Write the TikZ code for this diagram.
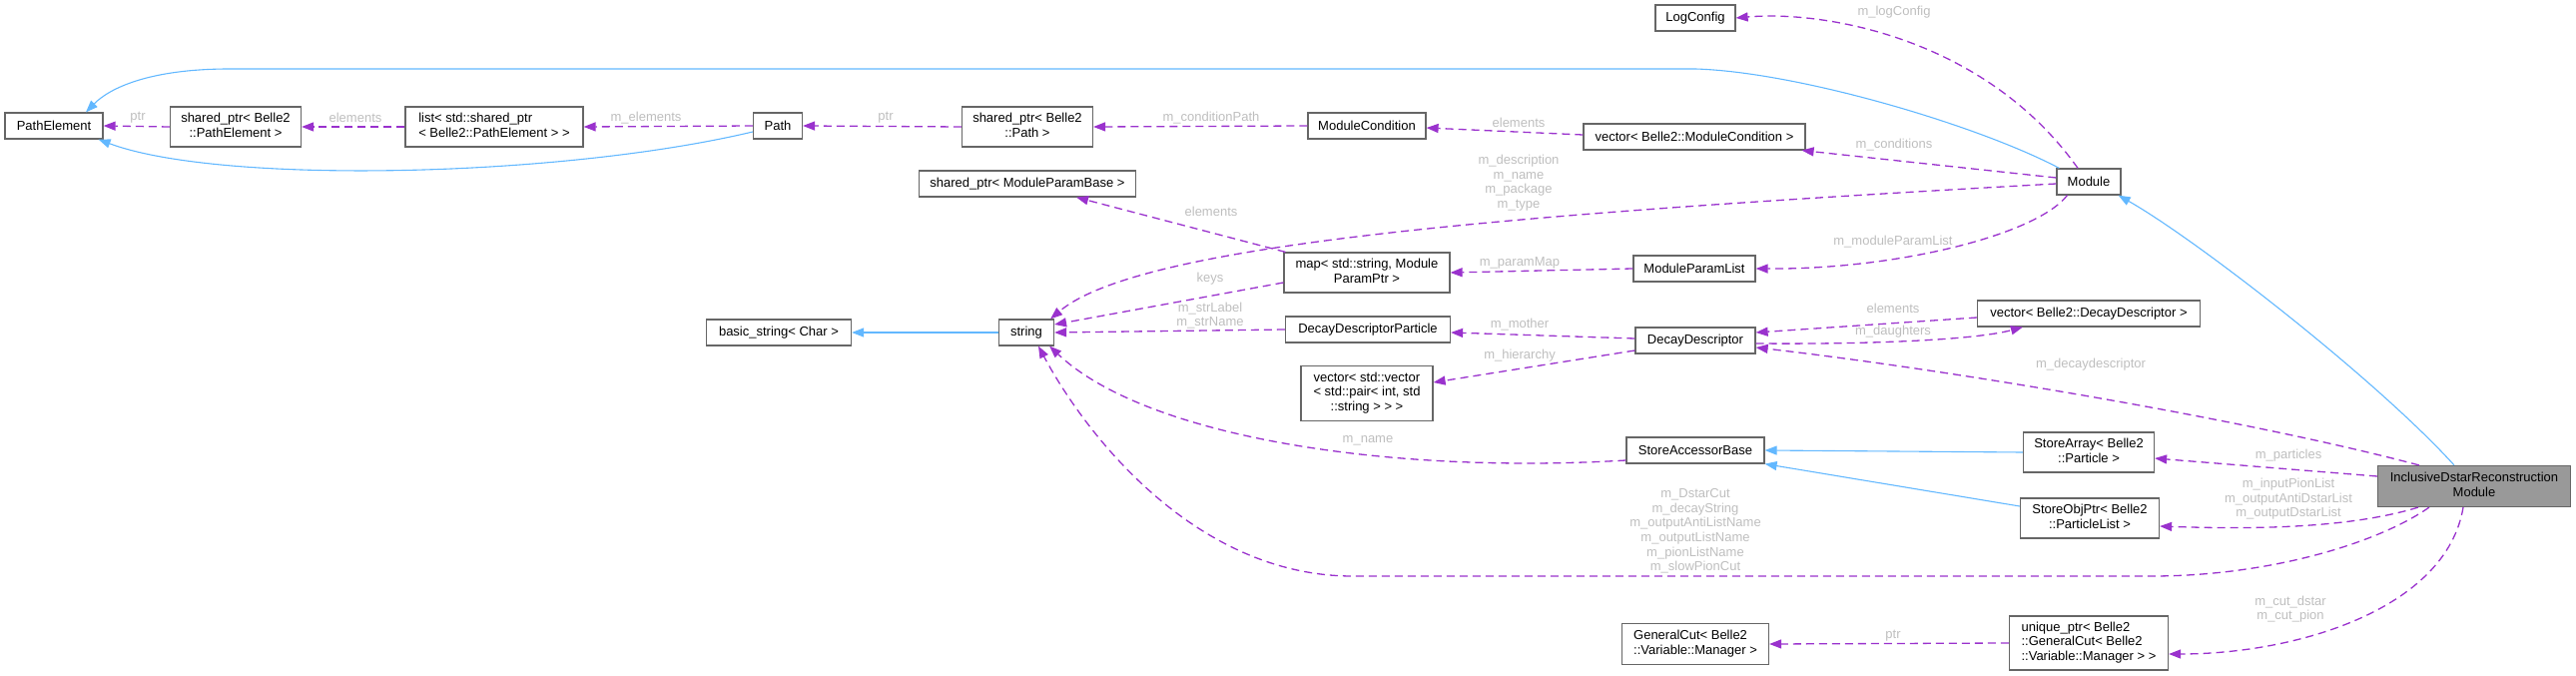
\documentclass[tikz,border=0pt]{standalone}
\usepackage{fontspec}
\setmainfont{Liberation Sans}
\usepackage{tikz}
\usetikzlibrary{arrows.meta, calc}
\definecolor{usePurple}{HTML}{9A32CD}
\definecolor{inheritBlue}{HTML}{63B8FF}
\definecolor{boxGray}{HTML}{666666}
\definecolor{mainGray}{HTML}{999999}
\definecolor{labelGray}{HTML}{BEBEBE}
\newcommand{\nodeFont}{\fontsize{13bp}{14.6bp}\selectfont}
\newcommand{\twoLines}[2]{\begin{tabular}{@{}l@{}}#1\\\multicolumn{1}{@{}c@{}}{#2}\end{tabular}}
\newcommand{\threeLines}[3]{\begin{tabular}{@{}l@{}}#1\\#2\\\multicolumn{1}{@{}c@{}}{#3}\end{tabular}}

\begin{document}
\begin{tikzpicture}[x=1bp, y=-1bp,
  classBox/.style={draw=boxGray, line width=1.2bp, fill=white, inner sep=0pt, font=\nodeFont},
  mainBox/.style={classBox, fill=mainGray},
  lbl/.style={text=labelGray, font=\nodeFont, inner sep=0pt, align=center},
  usesEdge/.style={draw=usePurple, line width=1.3bp, dash pattern=on 8bp off 5bp, -{Triangle[length=12bp, width=9bp]}},
  inheritEdge/.style={draw=inheritBlue, line width=1.1bp, -{Triangle[length=12bp, width=9bp]}}]
\useasboundingbox (0,0) rectangle (2580,677);

% classes
\node[classBox, minimum width=98bp, minimum height=26bp] (pathElem) at (54,126) {PathElement};
\node[classBox, minimum width=131bp, minimum height=40bp] (spElem) at (236,127) {\twoLines{shared\_ptr< Belle2}{::PathElement >}};
\node[classBox, minimum width=178bp, minimum height=40bp] (listElem) at (495,127) {\twoLines{list< std::shared\_ptr}{< Belle2::PathElement > >}};
\node[classBox, minimum width=49bp, minimum height=26bp] (path) at (779,126) {Path};
\node[classBox, minimum width=131bp, minimum height=40bp] (spPath) at (1029,127) {\twoLines{shared\_ptr< Belle2}{::Path >}};
\node[classBox, minimum width=118bp, minimum height=26bp] (modCond) at (1369,126) {ModuleCondition};
\node[classBox, minimum width=222bp, minimum height=26bp] (vecModCond) at (1697,137) {vector< Belle2::ModuleCondition >};
\node[classBox, minimum width=80bp, minimum height=26bp] (logConfig) at (1698,18) {LogConfig};
\node[classBox, minimum width=64bp, minimum height=26bp] (module) at (2092,182) {Module};
\node[classBox, minimum width=217bp, minimum height=26bp] (spParam) at (1029,184) {shared\_ptr< ModuleParamBase >};
\node[classBox, minimum width=166bp, minimum height=40bp] (paramMap) at (1369,273) {\twoLines{map< std::string, Module}{ParamPtr >}};
\node[classBox, minimum width=122bp, minimum height=26bp] (paramList) at (1697,269) {ModuleParamList};
\node[classBox, minimum width=145bp, minimum height=26bp] (basicStr) at (780,333) {basic\_string< Char >};
\node[classBox, minimum width=55bp, minimum height=26bp] (string) at (1028,333) {string};
\node[classBox, minimum width=165bp, minimum height=26bp] (ddParticle) at (1370,330) {DecayDescriptorParticle};
\node[classBox, minimum width=120bp, minimum height=26bp] (decayDesc) at (1698,341) {DecayDescriptor};
\node[classBox, minimum width=223bp, minimum height=26bp] (vecDD) at (2092,314) {vector< Belle2::DecayDescriptor >};
\node[classBox, minimum width=132bp, minimum height=55bp] (vecVec) at (1369,394) {\threeLines{vector< std::vector}{< std::pair< int, std}{::string > > >}};
\node[classBox, minimum width=138bp, minimum height=26bp] (accBase) at (1698,451) {StoreAccessorBase};
\node[classBox, minimum width=131bp, minimum height=40bp] (storeArray) at (2092,453) {\twoLines{StoreArray< Belle2}{::Particle >}};
\node[mainBox, minimum width=193bp, minimum height=41bp] (mainMod) at (2478,487) {\twoLines{InclusiveDstarReconstruction}{Module}};
\node[classBox, minimum width=139bp, minimum height=40bp] (storeObj) at (2093,519) {\twoLines{StoreObjPtr< Belle2}{::ParticleList >}};
\node[classBox, minimum width=147bp, minimum height=41bp] (genCut) at (1698,645) {\twoLines{GeneralCut< Belle2}{::Variable::Manager >}};
\node[classBox, minimum width=159bp, minimum height=54bp] (uniquePtr) at (2092,644) {\threeLines{unique\_ptr< Belle2}{::GeneralCut< Belle2}{::Variable::Manager > >}};

% inheritance
\draw[inheritEdge] ([xshift=3bp]module.north west) .. controls (1980,125) and (1800,72) .. (1698,69) -- (230,69) .. controls (150,69) and (110,88) .. ([xshift=32bp]pathElem.north);
\draw[inheritEdge] ([yshift=-6bp]path.west) .. controls (560,178) and (220,185) .. ([xshift=-5bp]pathElem.south east);
\draw[inheritEdge] (string.west) -- (basicStr.east);
\draw[inheritEdge] (storeArray.west) -- (accBase.east);
\draw[inheritEdge] ([yshift=12bp]storeObj.west) -- (accBase.south east);
\draw[inheritEdge] ([xshift=-20bp]mainMod.north) .. controls (2380,380) and (2200,240) .. ([xshift=-3bp]module.south east);

% members
\draw[usesEdge] (spElem.west) -- (pathElem.east);
\draw[usesEdge] (listElem.west) -- (spElem.east);
\draw[usesEdge] (path.west) -- (listElem.east);
\draw[usesEdge] (spPath.west) -- (path.east);
\draw[usesEdge] (modCond.west) -- (spPath.east);
\draw[usesEdge] ([yshift=2bp]vecModCond.west) -- ([yshift=-2bp]modCond.east);
\draw[usesEdge] ([xshift=-11bp]module.north) .. controls (1990,40) and (1830,10) .. (logConfig.east);
\draw[usesEdge] ([yshift=4bp]module.west) -- ([xshift=-4bp]vecModCond.south east);
\draw[usesEdge] ([yshift=-2bp]module.west) .. controls (1500,215) and (1140,245) .. ([xshift=-4bp]string.north east);
\draw[usesEdge] ([xshift=11bp]module.south west) .. controls (2040,235) and (1900,270) .. (paramList.east);
\draw[usesEdge] (paramList.west) -- (paramMap.east);
\draw[usesEdge] ([xshift=2bp]paramMap.north west) -- ([xshift=49bp]spParam.south);
\draw[usesEdge] ([yshift=-10bp]paramMap.west) -- ([yshift=8bp]string.east);
\draw[usesEdge] (ddParticle.west) -- (string.east);
\draw[usesEdge] ([yshift=2bp]decayDesc.west) -- ([yshift=-3bp]ddParticle.east);
\draw[usesEdge] ([yshift=-10bp]decayDesc.west) -- ([yshift=11bp]vecVec.east);
\draw[usesEdge] ([yshift=-4bp]vecDD.west) -- ([yshift=8bp]decayDesc.east);
\draw[usesEdge] ([yshift=-3bp]decayDesc.east) .. controls (1880,345) and (1980,340) .. ([xshift=46bp]vecDD.south west);
\draw[usesEdge] ([xshift=42bp]mainMod.north west) .. controls (2250,420) and (1950,370) .. ([yshift=-7bp]decayDesc.east);
\draw[usesEdge] ([yshift=10bp]mainMod.west) -- ([yshift=-6bp]storeArray.east);
\draw[usesEdge] ([xshift=41bp]mainMod.south west) .. controls (2350,530) and (2250,530) .. ([yshift=-8bp]storeObj.east);
\draw[usesEdge] ([xshift=52bp]mainMod.south west) .. controls (2380,545) and (2270,577) .. (2155,577) -- (1355,577) .. controls (1200,577) and (1090,440) .. ([xshift=12bp]string.south);
\draw[usesEdge] ([xshift=-11bp]mainMod.south) .. controls (2450,610) and (2300,655) .. ([yshift=-11bp]uniquePtr.east);
\draw[usesEdge] (uniquePtr.west) -- (genCut.east);
\draw[usesEdge] ([yshift=-10bp]accBase.west) .. controls (1400,475) and (1150,440) .. ([xshift=-5bp]string.south east);

% edge labels
\node[lbl] (lblPtrElem) at (138,118) {ptr};
\node[lbl] (lblElemList) at (356,118) {elements};
\node[lbl] (lblElements) at (647,118) {m\_elements};
\node[lbl] (lblPtrPath) at (887,118) {ptr};
\node[lbl] (lblCondPath) at (1213,118) {m\_conditionPath};
\node[lbl] (lblElemCond) at (1521,123) {elements};
\node[lbl] (lblLogConfig) at (1897,12) {m\_logConfig};
\node[lbl] (lblConditions) at (1897,145) {m\_conditions};
\node[lbl] (lblDescr) at (1521,183) {m\_description\\m\_name\\m\_package\\m\_type};
\node[lbl] (lblElemParam) at (1213,212) {elements};
\node[lbl] (lblParamList) at (1896,242) {m\_moduleParamList};
\node[lbl] (lblParamMap) at (1522,263) {m\_paramMap};
\node[lbl] (lblKeys) at (1212,279) {keys};
\node[lbl] (lblStrLabel) at (1212,316) {m\_strLabel\\m\_strName};
\node[lbl] (lblMother) at (1522,325) {m\_mother};
\node[lbl] (lblHierarchy) at (1522,356) {m\_hierarchy};
\node[lbl] (lblElemDD) at (1896,309) {elements};
\node[lbl] (lblDaughters) at (1896,332) {m\_daughters};
\node[lbl] (lblDecayDesc) at (2094,365) {m\_decaydescriptor};
\node[lbl] (lblName) at (1370,441) {m\_name};
\node[lbl] (lblParticles) at (2292,456) {m\_particles};
\node[lbl] (lblLists) at (2292,500) {m\_inputPionList\\m\_outputAntiDstarList\\m\_outputDstarList};
\node[lbl] (lblStrings) at (1698,532) {m\_DstarCut\\m\_decayString\\m\_outputAntiListName\\m\_outputListName\\m\_pionListName\\m\_slowPionCut};
\node[lbl] (lblCuts) at (2294,610) {m\_cut\_dstar\\m\_cut\_pion};
\node[lbl] (lblPtrCut) at (1896,637) {ptr};
\end{tikzpicture}
\end{document}
